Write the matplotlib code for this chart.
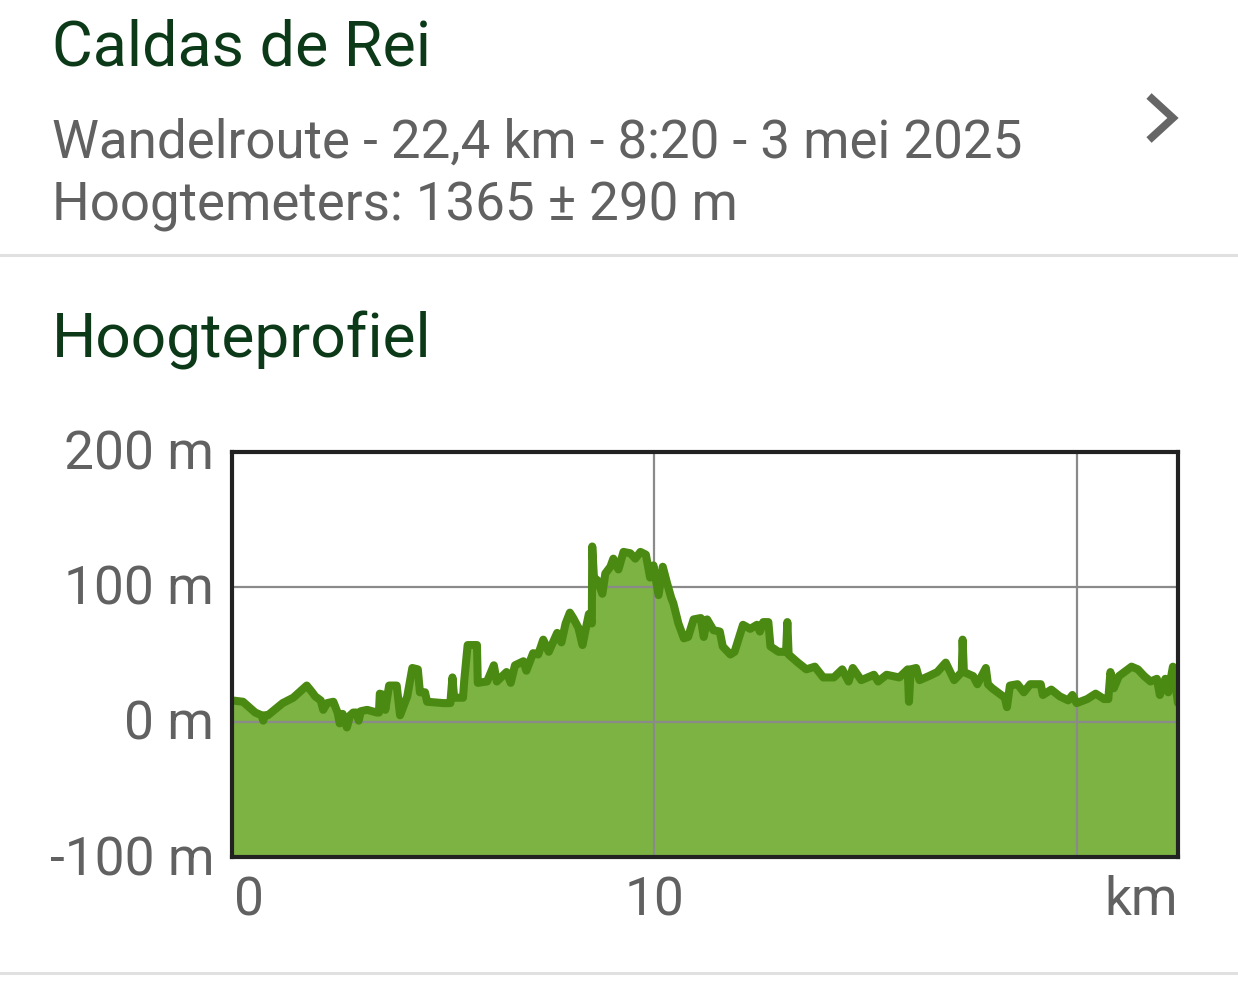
import matplotlib
matplotlib.use("Agg")
import matplotlib.pyplot as plt
from matplotlib.lines import Line2D

plt.rcParams['font.family'] = ['Roboto', 'DejaVu Sans']

title = "Caldas de Rei"
subtitle1 = "Wandelroute - 22,4 km - 8:20 - 3 mei 2025"
subtitle2 = "Hoogtemeters: 1365 ± 290 m"
section = "Hoogteprofiel"

km = [0.0, 0.26, 0.55, 0.7, 0.74, 0.78, 0.85, 1.2, 1.45, 1.77, 1.9, 1.97, 2.1, 2.16, 2.25, 2.4,
      2.5, 2.55, 2.62, 2.72, 2.8, 2.87, 2.95, 3.0, 3.05, 3.2, 3.43, 3.48, 3.5, 3.6, 3.63, 3.72,
      3.9, 3.98, 4.15, 4.27, 4.4, 4.45, 4.57, 4.62, 5.0, 5.17, 5.22, 5.26, 5.47, 5.5, 5.58, 5.8,
      5.82, 6.04, 6.2, 6.27, 6.5, 6.6, 6.7, 6.9, 6.97, 7.13, 7.25, 7.37, 7.5, 7.7, 7.8, 7.9,
      8.0, 8.08, 8.2, 8.3, 8.37, 8.45, 8.52, 8.53, 8.57, 8.65, 8.77, 8.84, 8.96, 9.03, 9.15, 9.27,
      9.43, 9.55, 9.67, 9.8, 9.9, 9.98, 10.1, 10.2, 10.3, 10.4, 10.45, 10.57, 10.7, 10.8, 10.93,
      11.1, 11.17, 11.25, 11.4, 11.55, 11.62, 11.8, 11.9, 12.1, 12.27, 12.43, 12.5, 12.58, 12.7,
      12.75, 12.94, 13.12, 13.15, 13.18, 13.4, 13.6, 13.8, 14.0, 14.25, 14.45, 14.6, 14.7, 14.9,
      15.2, 15.3, 15.5, 15.8, 16.0, 16.03, 16.07, 16.2, 16.28, 16.5, 16.7, 16.9, 17.1, 17.28,
      17.3, 17.33, 17.55, 17.65, 17.85, 17.9, 18.0, 18.3, 18.35, 18.42, 18.6, 18.75, 18.9, 19.15,
      19.2, 19.4, 19.6, 19.8, 19.9, 20.0, 20.25, 20.45, 20.65, 20.75, 20.8, 20.88, 21.0, 21.3,
      21.45, 21.6, 21.75, 21.9, 21.97, 22.1, 22.17, 22.28, 22.4]
elev = [16, 15, 7, 5, 1, 5, 5, 14, 18, 27, 22, 19, 16, 9, 14, 15,
        7, -1, 6, -4, 5, 7, 7, 1, 8, 9, 7, 7, 21, 20, 9, 27,
        27, 5, 19, 40, 39, 22, 22, 15, 14, 14, 33, 18, 18, 31, 57, 57,
        29, 30, 42, 30, 37, 29, 42, 45, 38, 51, 50, 61, 52, 66, 59, 73,
        81, 77, 70, 57, 68, 80, 73, 130, 107, 105, 95, 110, 115, 121, 113, 126,
        125, 121, 126, 124, 107, 116, 94, 115, 103, 92, 88, 73, 62, 63, 76,
        77, 63, 76, 68, 67, 56, 50, 52, 72, 69, 72, 67, 74, 74,
        56, 52, 52, 74, 50, 44, 39, 41, 33, 33, 39, 30, 40, 31,
        35, 30, 35, 33, 39, 15, 39, 40, 31, 34, 37, 44, 31, 37,
        61, 37, 34, 28, 40, 28, 25, 18, 11, 27, 28, 22, 28, 28,
        20, 24, 19, 16, 20, 14, 17, 21, 17, 17, 37, 25, 34, 41,
        39, 34, 30, 32, 20, 32, 22, 41, 14]

y_ticks = [-100, 0, 100, 200]
y_labels = ["-100 m", "0 m", "100 m", "200 m"]
x_grid = [10, 20]

W, H = 1238, 1002
fig = plt.figure(figsize=(W / 100, H / 100), dpi=100)
fig.patch.set_facecolor('white')

def fx(px):
    return px / W

def fy(py):
    return 1 - py / H

dark_green = '#0c3a18'
grey_text = '#616161'

fig.text(fx(52), fy(66), title, fontsize=45.2, color=dark_green, va='baseline', ha='left')
fig.text(fx(52), fy(158), subtitle1, fontsize=38.1, color=grey_text, va='baseline', ha='left')
fig.text(fx(52), fy(220), subtitle2, fontsize=38.1, color=grey_text, va='baseline', ha='left')
fig.text(fx(52), fy(358), section, fontsize=44.8, color=dark_green, va='baseline', ha='left')

# chevron
fig.add_artist(Line2D([fx(1149), fx(1173), fx(1149)], [fy(96), fy(118), fy(140)],
                      color='#666666', lw=5.5, solid_joinstyle='miter', solid_capstyle='butt'))
# separators
fig.add_artist(Line2D([0, 1], [fy(255), fy(255)], color='#e0e0e0', lw=2.2))
fig.add_artist(Line2D([0, 1], [fy(973), fy(973)], color='#e0e0e0', lw=2.2))

ax = fig.add_axes([fx(232), fy(857), fx(1178) - fx(232), fy(452) - fy(857)])
ax.set_xlim(0, 22.4)
ax.set_ylim(-100, 200)
ax.fill_between(km, elev, -100, color='#7cb342', lw=0, zorder=1)
for v in y_ticks[1:-1]:
    ax.axhline(v, color='#8a8a8a', lw=1.6, zorder=2)
for v in x_grid:
    ax.axvline(v, color='#8a8a8a', lw=1.6, zorder=2)
ax.plot(km, elev, color='#4b8a12', lw=5.8, solid_joinstyle='round', solid_capstyle='round',
        zorder=3, clip_on=True)
ax.set_xticks([])
ax.set_yticks([])
for s in ax.spines.values():
    s.set_linewidth(3)
    s.set_color('#222222')
    s.set_zorder(5)

for v, lab in zip(y_ticks, y_labels):
    ax.text(-0.019, (v + 100) / 300 - 18 / 405, lab, transform=ax.transAxes, ha='right',
            va='baseline', fontsize=38.3, color=grey_text)
ax.text(0.002, -0.045, "0", transform=ax.transAxes, ha='left', va='top', fontsize=38.3, color=grey_text)
ax.text(10 / 22.4, -0.045, "10", transform=ax.transAxes, ha='center', va='top', fontsize=38.3, color=grey_text)
ax.text(1.0, -0.045, "km", transform=ax.transAxes, ha='right', va='top', fontsize=38.3, color=grey_text)

fig.savefig('out.png', dpi=100, facecolor='white')
